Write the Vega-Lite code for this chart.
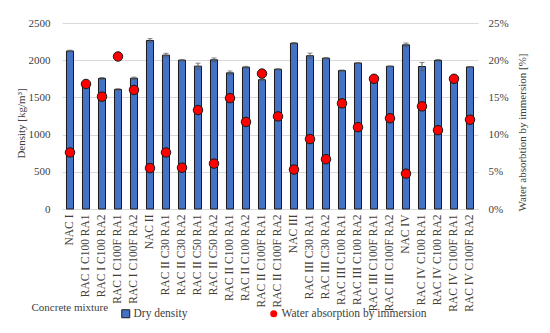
{
  "$schema": "https://vega.github.io/schema/vega-lite/v6.json",
  "width": 416,
  "height": 186,
  "autosize": {"type": "none"},
  "padding": {"left": 62, "top": 23, "right": 72, "bottom": 124},
  "background": "white",
  "data": {
    "values": [
      {"mix": "NAC I", "dens": 2124, "err": 10, "wa": 0.076},
      {"mix": "RAC I C100 RA1", "dens": 1650, "err": 10, "wa": 0.168},
      {"mix": "RAC I C100 RA2", "dens": 1755, "err": 12, "wa": 0.151},
      {"mix": "RAC I C100F RA1", "dens": 1607, "err": 10, "wa": 0.205},
      {"mix": "RAC I C100F RA2", "dens": 1758, "err": 15, "wa": 0.160},
      {"mix": "NAC II", "dens": 2265, "err": 25, "wa": 0.055},
      {"mix": "RAC II C30 RA1", "dens": 2068, "err": 25, "wa": 0.076},
      {"mix": "RAC II C30 RA2", "dens": 2000, "err": 8, "wa": 0.0555},
      {"mix": "RAC II C50 RA1", "dens": 1920, "err": 40, "wa": 0.133},
      {"mix": "RAC II C50 RA2", "dens": 2005, "err": 25, "wa": 0.061},
      {"mix": "RAC II C100 RA1", "dens": 1830, "err": 25, "wa": 0.149},
      {"mix": "RAC II C100 RA2", "dens": 1906, "err": 12, "wa": 0.117},
      {"mix": "RAC II C100F RA1", "dens": 1738, "err": 10, "wa": 0.182},
      {"mix": "RAC II C100F RA2", "dens": 1878, "err": 8, "wa": 0.1245},
      {"mix": "NAC III", "dens": 2228, "err": 10, "wa": 0.053},
      {"mix": "RAC III C30 RA1", "dens": 2060, "err": 35, "wa": 0.094},
      {"mix": "RAC III C30 RA2", "dens": 2027, "err": 10, "wa": 0.067},
      {"mix": "RAC III C100 RA1", "dens": 1860, "err": 8, "wa": 0.142},
      {"mix": "RAC III C100 RA2", "dens": 1962, "err": 5, "wa": 0.110},
      {"mix": "RAC III C100F RA1", "dens": 1720, "err": 10, "wa": 0.175},
      {"mix": "RAC III C100F RA2", "dens": 1918, "err": 5, "wa": 0.122},
      {"mix": "NAC IV", "dens": 2206, "err": 25, "wa": 0.0475},
      {"mix": "RAC IV C100 RA1", "dens": 1915, "err": 55, "wa": 0.138},
      {"mix": "RAC IV C100 RA2", "dens": 1998, "err": 12, "wa": 0.106},
      {"mix": "RAC IV C100F RA1", "dens": 1720, "err": 10, "wa": 0.175},
      {"mix": "RAC IV C100F RA2", "dens": 1910, "err": 5, "wa": 0.120}
    ]
  },
  "encoding": {
    "x": {
      "field": "mix",
      "type": "nominal",
      "sort": null,
      "scale": {"paddingInner": 0.56, "paddingOuter": 0.28},
      "axis": {
        "title": "Concrete mixture",
        "titleAlign": "left",
        "titleAnchor": null,
        "titleX": -31,
        "titleY": 101,
        "titleBaseline": "alphabetic",
        "titleFont": "Liberation Serif",
        "titleFontSize": 11,
        "titleFontWeight": "normal",
        "titleColor": "#404040",
        "labelAngle": -90,
        "labelFont": "Liberation Serif",
        "labelFontSize": 11.5,
        "labelColor": "#404040",
        "labelPadding": 5,
        "ticks": false,
        "domainColor": "#D9D9D9",
        "labelLimit": 200
      }
    }
  },
  "layer": [
    {
      "mark": {"type": "bar", "stroke": "#1a1a1a", "strokeWidth": 1},
      "encoding": {
        "y": {
          "field": "dens",
          "type": "quantitative",
          "scale": {"domain": [0, 2500]},
          "axis": {
            "title": "Density [kg/m³]",
            "values": [0, 500, 1000, 1500, 2000, 2500],
            "format": "d",
            "grid": true,
            "gridColor": "#D9D9D9",
            "domain": false,
            "ticks": false,
            "labelPadding": 12,
            "labelFont": "Liberation Serif",
            "labelFontSize": 11,
            "labelColor": "#404040",
            "titleFont": "Liberation Serif",
            "titleFontSize": 11,
            "titleFontWeight": "normal",
            "titleColor": "#404040",
            "titlePadding": 2,
            "titleY": 100
          }
        },
        "fill": {
          "datum": "Dry density",
          "type": "nominal",
          "scale": {"domain": ["Dry density"], "range": ["#4472C4"]},
          "legend": {
            "title": null,
            "orient": "none",
            "legendX": 58,
            "legendY": 285,
            "symbolType": "square",
            "symbolSize": 64,
            "symbolStrokeColor": "#1a1a1a",
            "symbolStrokeWidth": 1,
            "labelFont": "Liberation Serif",
            "labelFontSize": 11.5,
            "labelColor": "#404040",
            "labelOffset": 2
          }
        }
      }
    },
    {
      "mark": {"type": "errorbar", "ticks": {"size": 5, "color": "#595959"}, "color": "#595959"},
      "encoding": {
        "y": {"field": "dens", "type": "quantitative", "scale": {"domain": [0, 2500]}, "axis": null},
        "yError": {"field": "err"}
      }
    },
    {
      "mark": {"type": "point", "filled": true, "fill": "#FF0000", "stroke": "#1a1a1a", "strokeWidth": 1, "size": 90, "opacity": 1},
      "encoding": {
        "y": {
          "field": "wa",
          "type": "quantitative",
          "scale": {"domain": [0, 0.25]},
          "axis": {
            "orient": "right",
            "title": "Water absorbtion by immersion [%]",
            "format": ".0%",
            "values": [0, 0.05, 0.1, 0.15, 0.2, 0.25],
            "grid": false,
            "domain": false,
            "ticks": false,
            "labelPadding": 10,
            "labelFont": "Liberation Serif",
            "labelFontSize": 11,
            "labelColor": "#404040",
            "titleFont": "Liberation Serif",
            "titleFontSize": 11,
            "titleFontWeight": "normal",
            "titleColor": "#404040",
            "titleAngle": 270,
            "titleAlign": "center",
            "titleBaseline": "middle",
            "titleX": 44,
            "titleY": 109
          }
        },
        "shape": {
          "datum": "Water absorption by immersion",
          "type": "nominal",
          "scale": {"domain": ["Water absorption by immersion"], "range": ["circle"]},
          "legend": {
            "title": null,
            "orient": "none",
            "legendX": 206,
            "legendY": 285,
            "symbolSize": 50,
            "symbolFillColor": "#FF0000",
            "symbolStrokeColor": "#1a1a1a",
            "symbolStrokeWidth": 1,
            "labelFont": "Liberation Serif",
            "labelFontSize": 11.5,
            "labelColor": "#404040",
            "labelOffset": 2
          }
        }
      }
    }
  ],
  "resolve": {"scale": {"y": "independent"}},
  "config": {"view": {"stroke": null}}
}
